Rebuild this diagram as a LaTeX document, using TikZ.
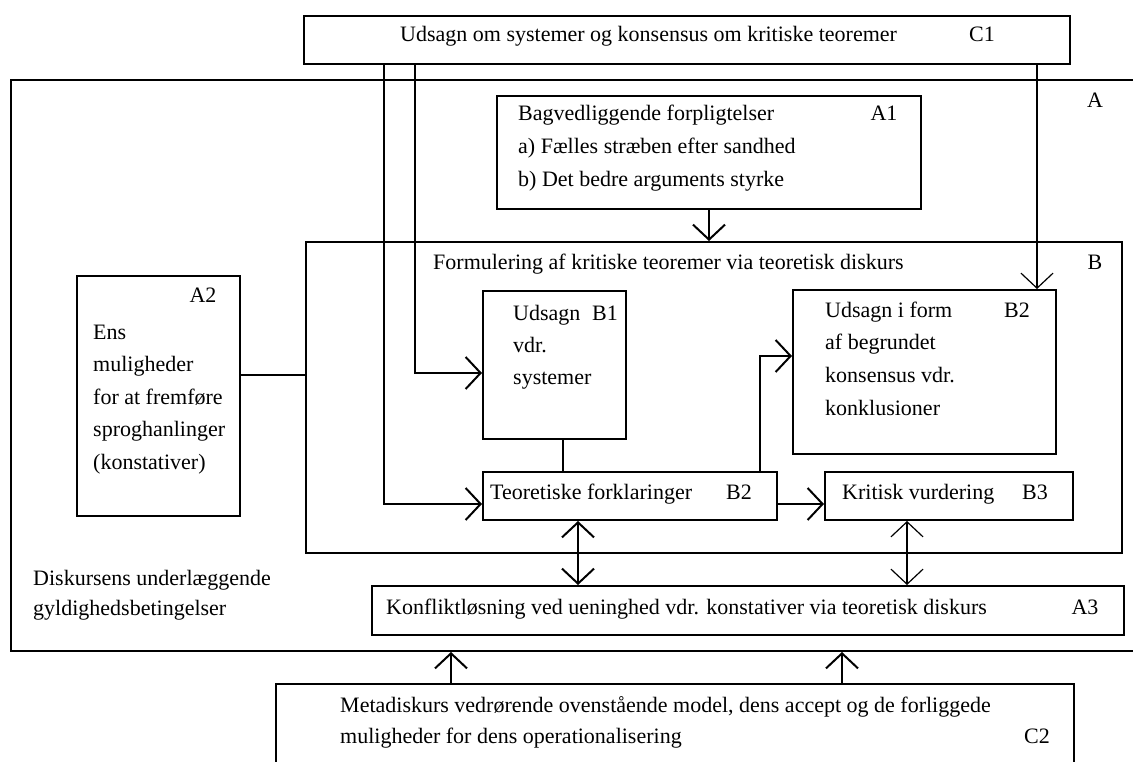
\documentclass[tikz,border=0pt]{standalone}
\usepackage{fontspec}
\setmainfont{Liberation Serif}
\usetikzlibrary{arrows.meta}

\begin{document}
\begin{tikzpicture}[x=1pt, y=-1pt,
    font=\fontsize{22}{26}\selectfont,
    box/.style={draw, line width=2pt, inner sep=0pt, anchor=north west},
    txt/.style={anchor=mid west, inner sep=0pt},
    lbl/.style={anchor=mid, inner sep=0pt},
    lin/.style={line width=2pt},
    pil/.style={line width=2pt, -{Straight Barb[length=15pt, width=32pt]}},
    dpil/.style={line width=2pt, {Straight Barb[length=15pt, width=32pt]}-{Straight Barb[length=15pt, width=32pt]}}]
    \useasboundingbox (0,0) rectangle (1133,762);
    \clip (0,0) rectangle (1133,762);

    \node[box, minimum width=1150pt, minimum height=571pt] (A) at (10,79) {};
    \node[box, fill=white, minimum width=766pt, minimum height=48pt] (C1) at (303,15) {};
    \node[box, minimum width=424pt, minimum height=113pt] (A1) at (496,95) {};
    \node[box, minimum width=816pt, minimum height=311pt] (B) at (305,241) {};
    \node[box, minimum width=163pt, minimum height=240pt] (A2) at (76,275) {};
    \node[box, minimum width=143pt, minimum height=148pt] (B1) at (482,290) {};
    \node[box, minimum width=263pt, minimum height=164pt] (B2k) at (792,289) {};
    \node[box, minimum width=294pt, minimum height=48pt] (Teo) at (482,471) {};
    \node[box, minimum width=248pt, minimum height=48pt] (Krit) at (824,471) {};
    \node[box, minimum width=752pt, minimum height=49pt] (A3) at (371,585) {};
    \node[box, minimum width=798pt, minimum height=110pt] (C2) at (275,683) {};

    \node[txt] (c1t) at (400,39) {Udsagn om systemer og konsensus om kritiske teoremer};
    \node[lbl] (c1l) at (982,39) {C1};
    \node[lbl] (al) at (1095,105) {A};
    \node[txt] (a1t) at (518,118) {Bagvedliggende forpligtelser};
    \node[lbl] (a1l) at (884,118) {A1};
    \node[txt] (a1a) at (518,151) {a) Fælles stræben efter sandhed};
    \node[txt] (a1b) at (518,184) {b) Det bedre arguments styrke};
    \node[txt] (bt) at (433,267) {Formulering af kritiske teoremer via teoretisk diskurs};
    \node[lbl] (bl) at (1095,267) {B};
    \node[lbl] (a2l) at (203,300) {A2};
    \foreach \t [count=\i from 0] in {Ens, muligheder, for at fremføre, sproghanlinger, (konstativer)}
        \node[txt] (a2t\i) at (93,337+32.5*\i) {\t};
    \node[txt] (b1t) at (513,318) {Udsagn};
    \node[lbl] (b1l) at (605,318) {B1};
    \node[txt] (b1u) at (513,350) {vdr.};
    \node[txt] (b1v) at (513,382) {systemer};
    \node[txt] (b2t) at (825,315) {Udsagn i form};
    \node[lbl] (b2l) at (1017,315) {B2};
    \foreach \t [count=\i from 1] in {af begrundet, konsensus vdr., konklusioner}
        \node[txt] (b2t\i) at (825,315+32.7*\i) {\t};
    \node[txt] (teot) at (490,497) {Teoretiske forklaringer};
    \node[lbl] (teol) at (739,497) {B2};
    \node[txt] (kritt) at (842,497) {Kritisk vurdering};
    \node[lbl] (kritl) at (1035,497) {B3};
    \node[txt] (a3t) at (386,612) {Konfliktløsning ved ueninghed vdr. konstativer via teoretisk diskurs};
    \node[lbl] (a3l) at (1085,612) {A3};
    \node[txt] (dt1) at (33,583) {Diskursens underlæggende};
    \node[txt] (dt2) at (33,613) {gyldighedsbetingelser};
    \node[txt] (c2t1) at (340,710) {Metadiskurs vedrørende ovenstående model, dens accept og de forliggede};
    \node[txt] (c2t2) at (340,741) {muligheder for dens operationalisering};
    \node[lbl] (c2l) at (1037,741) {C2};

    \coordinate (c1a) at ([xshift=81pt]C1.south west);
    \coordinate (c1b) at ([xshift=112pt]C1.south west);
    \coordinate (c1c) at ([xshift=734pt]C1.south west);
    \coordinate (b1s) at ([xshift=8pt]B1.south);
    \coordinate (teos) at ([xshift=96pt]Teo.south west);
    \coordinate (teoe) at ([yshift=-8pt]Teo.east);
    \coordinate (krits) at ([xshift=83pt]Krit.south west);
    \coordinate (c2a) at ([xshift=176pt]C2.north west);
    \coordinate (c2b) at ([xshift=567pt]C2.north west);
    \coordinate (a2e) at ([yshift=21pt]A2.east);

    \draw[pil] (c1a) |- ([yshift=-8pt]Teo.west);
    \draw[pil] (c1b) |- ([yshift=-8pt]B1.west);
    \draw[pil, line width=1.2pt] (c1c) -- (c1c |- B2k.north);
    \draw[pil] (A1.south) -- (A1.south |- B.north);
    \draw[lin] (a2e) -- (a2e -| B.west);
    \draw[lin] (b1s) -- (b1s |- Teo.north);
    \draw[pil] ([xshift=-18pt]Teo.north east) |- ([yshift=16pt]B2k.west);
    \draw[pil] (teoe) -- (teoe -| Krit.west);
    \draw[dpil] (teos) -- (teos |- A3.north);
    \draw[dpil, line width=1.2pt] (krits) -- (krits |- A3.north);
    \draw[pil] (c2a) -- (c2a |- A.south);
    \draw[pil] (c2b) -- (c2b |- A.south);
\end{tikzpicture}
\end{document}
